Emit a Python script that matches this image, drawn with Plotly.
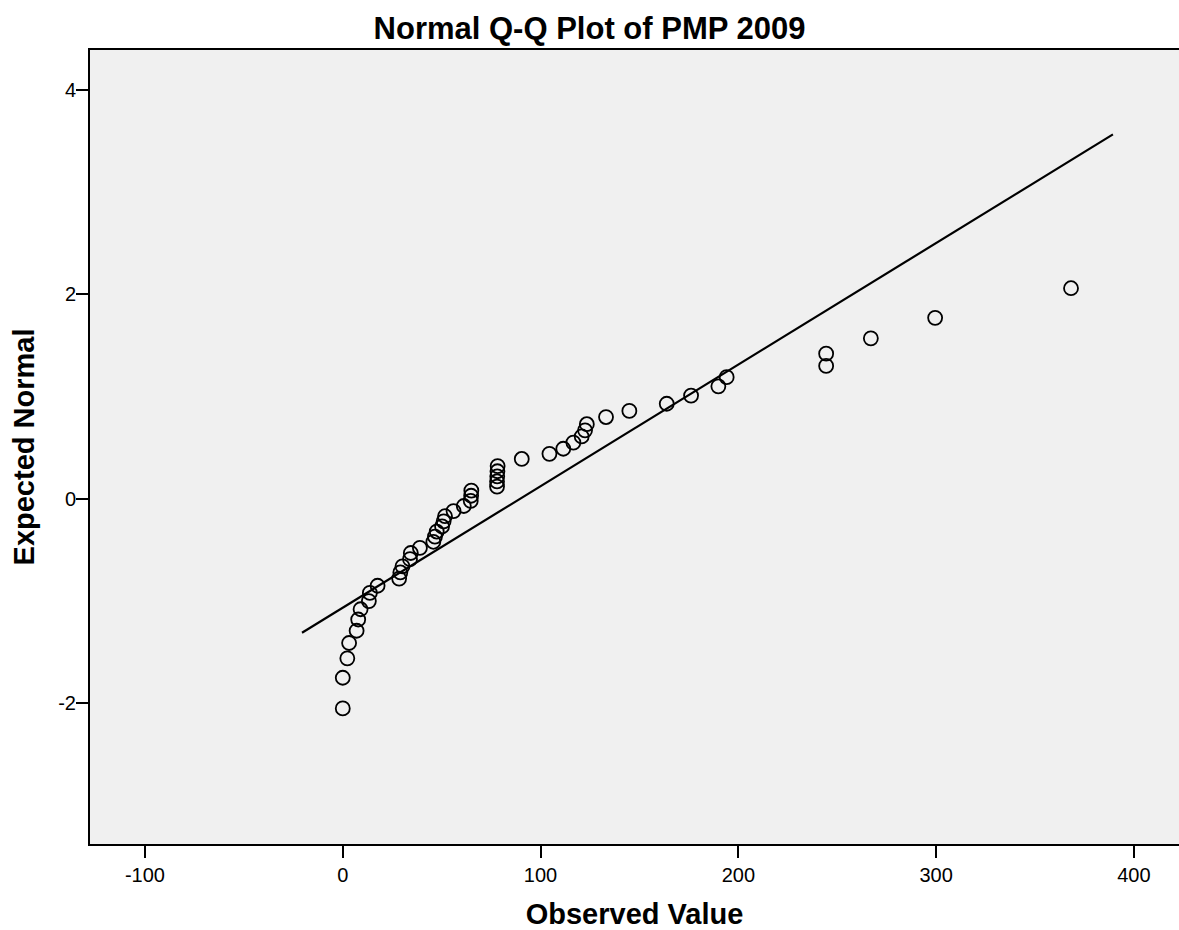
import plotly.graph_objects as go

observed = [0, 0, 2.3, 3.2, 7.0, 7.8, 9.0, 13.2, 13.7, 17.6,
            28.5, 29.1, 30.2, 34.0, 34.4, 39.0, 45.8, 46.6, 47.5, 50.2,
            51.0, 51.7, 56.0, 61.2, 64.7, 64.9, 65.0, 78.0, 78.0, 78.1,
            78.2, 78.3, 90.5, 104.5, 111.5, 116.6, 120.8, 122.5, 123.4, 133.1,
            144.9, 163.8, 176.1, 189.9, 194.1, 244.4, 244.4, 267.0, 299.5, 368.2]
expected = [-2.05, -1.75, -1.56, -1.41, -1.29, -1.18, -1.08, -1.00, -0.92, -0.85,
            -0.78, -0.72, -0.66, -0.59, -0.53, -0.48, -0.42, -0.37, -0.32, -0.27,
            -0.22, -0.17, -0.12, -0.07, -0.02, 0.03, 0.08, 0.12, 0.17, 0.22,
            0.27, 0.32, 0.39, 0.44, 0.49, 0.55, 0.61, 0.67, 0.73, 0.80,
            0.86, 0.93, 1.01, 1.10, 1.19, 1.30, 1.42, 1.57, 1.77, 2.06]

line_x = [-20.6, 389.4]
line_y = [-1.31, 3.565]

x_ticks = [-100, 0, 100, 200, 300, 400]
x_tick_text = ["-100", "0", "100", "200", "300", "400"]
y_ticks = [-2, 0, 2, 4]
y_tick_text = ["-2", "0", "2", "4"]

FONT = "Liberation Sans, Arial, sans-serif"

fig = go.Figure()
fig.add_trace(go.Scatter(x=line_x, y=line_y, mode="lines",
                         line=dict(color="black", width=2.2), showlegend=False,
                         hoverinfo="skip"))
fig.add_trace(go.Scatter(x=observed, y=expected, mode="markers",
                         marker=dict(symbol="circle-open", size=14,
                                     color="black", line=dict(width=1.8, color="black")),
                         showlegend=False))

fig.update_layout(
    width=1179, height=930,
    margin=dict(l=90, r=0, t=50, b=86),
    paper_bgcolor="white",
    plot_bgcolor="#f0f0f0",
    font=dict(family=FONT, color="black", size=20),
    title=dict(text="<b>Normal Q-Q Plot of PMP 2009</b>", x=0.5, xanchor="center",
               y=1 - 28 / 930, yanchor="middle",
               font=dict(family=FONT, size=31, color="black")),
    xaxis=dict(range=[-127.8, 422.8], tickvals=x_ticks, ticktext=x_tick_text,
               ticks="outside", ticklen=12, tickwidth=2, tickcolor="black",
               showline=True, linecolor="black", linewidth=2, mirror=True,
               showgrid=False, zeroline=False,
               tickfont=dict(size=20),
               title=dict(text="<b>Observed Value</b>", standoff=24,
                          font=dict(size=29))),
    yaxis=dict(range=[-3.376, 4.39], tickvals=y_ticks, ticktext=y_tick_text,
               ticks="outside", ticklen=12, tickwidth=2, tickcolor="black",
               ticklabelstandoff=-4,
               showline=True, linecolor="black", linewidth=2,
               showgrid=False, zeroline=False,
               tickfont=dict(size=20),
               title=dict(text="<b>Expected Normal</b>", standoff=15,
                          font=dict(size=29))),
)

fig.write_html("out.html", config={"displayModeBar": False},
               post_script="document.body.style.margin='0';document.body.style.overflow='hidden';")
